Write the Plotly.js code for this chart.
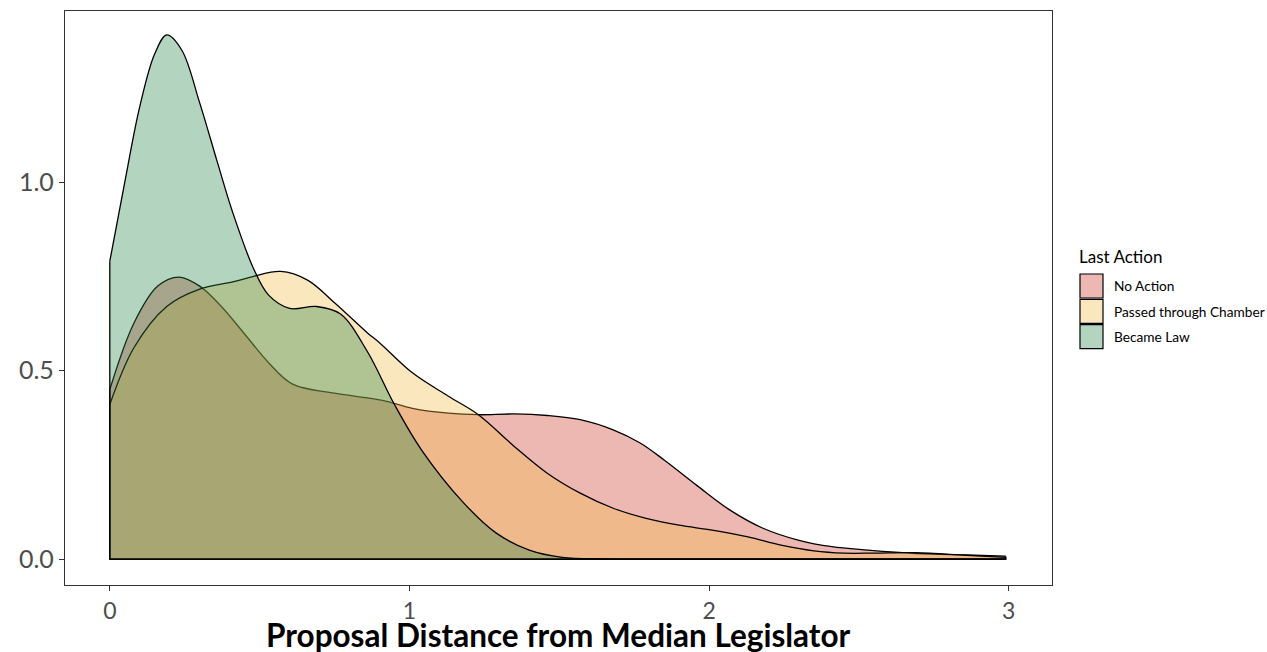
<!DOCTYPE html>
<html>
<head>
<meta charset="utf-8">
<script src="https://cdn.plot.ly/plotly-3.0.1.min.js"></script>
<style>
  html, body { margin: 0; padding: 0; background: #ffffff; }
  #chart { width: 1267px; height: 652px; }
</style>
</head>
<body>
<div id="chart"></div>
<script>
// ---- Data ----
const seriesNames = ["No Action", "Passed through Chamber", "Became Law"];

const xNoAction = [0, 0.08, 0.16, 0.23, 0.30, 0.37, 0.45, 0.53, 0.61, 0.75, 0.91, 1.01, 1.13, 1.23, 1.35, 1.46, 1.57, 1.68, 1.77, 1.85, 1.96, 2.07, 2.18, 2.30, 2.41, 2.53, 2.69, 2.86, 2.99];
const yNoAction = [0.45, 0.625, 0.724, 0.748, 0.724, 0.672, 0.597, 0.521, 0.464, 0.44, 0.421, 0.40, 0.387, 0.383, 0.385, 0.381, 0.37, 0.343, 0.308, 0.263, 0.195, 0.13, 0.082, 0.05, 0.033, 0.024, 0.015, 0.011, 0.008];

const xPassed = [0, 0.08, 0.19, 0.30, 0.41, 0.48, 0.57, 0.66, 0.75, 0.86, 0.90, 1.01, 1.13, 1.23, 1.35, 1.46, 1.57, 1.68, 1.79, 1.90, 2.01, 2.13, 2.24, 2.35, 2.45, 2.55, 2.69, 2.86, 2.99];
const yPassed = [0.41, 0.56, 0.67, 0.716, 0.735, 0.75, 0.763, 0.74, 0.68, 0.60, 0.574, 0.494, 0.432, 0.383, 0.299, 0.228, 0.175, 0.135, 0.108, 0.09, 0.077, 0.059, 0.037, 0.022, 0.016, 0.016, 0.017, 0.01, 0.005];

const xLaw = [0, 0.05, 0.10, 0.15, 0.19, 0.24, 0.30, 0.36, 0.41, 0.48, 0.53, 0.60, 0.69, 0.77, 0.86, 0.95, 1.04, 1.18, 1.29, 1.40, 1.51, 1.65, 1.80, 2.20, 2.60, 2.99];
const yLaw = [0.79, 1.00, 1.20, 1.34, 1.39, 1.35, 1.21, 1.05, 0.92, 0.77, 0.70, 0.665, 0.67, 0.65, 0.55, 0.41, 0.29, 0.15, 0.069, 0.024, 0.005, 0.001, 0, 0, 0, 0];

const xTicks = [0, 1, 2, 3];
const yTicks = [0.0, 0.5, 1.0];
const yTickLabels = ["0.0", "0.5", "1.0"];
const xTitle = "Proposal Distance from Median Legislator";
const legendTitle = "Last Action";

// ---- Styles ----
const fills = ["rgba(204,52,35,0.35)", "rgba(244,186,69,0.35)", "rgba(38,132,69,0.35)"];
const FONT = "Lato, 'Open Sans', sans-serif";

const xs = [xNoAction, xPassed, xLaw];
const ys = [yNoAction, yPassed, yLaw];

const traces = [];
for (let i = 0; i < 3; i++) {
  const x = xs[i], y = ys[i];
  traces.push({
    type: "scatter", mode: "lines", x: x, y: y,
    fill: "tozeroy", fillcolor: fills[i],
    line: { color: "#000000", width: 1.3, shape: "spline", smoothing: 1 },
    name: seriesNames[i], showlegend: false, hoverinfo: "skip"
  });
  // vertical edges and baseline of the density polygon
  traces.push({
    type: "scatter", mode: "lines",
    x: [x[0], x[0], x[x.length - 1], x[x.length - 1]],
    y: [y[0], 0, 0, y[y.length - 1]],
    line: { color: "#000000", width: 1.3 },
    showlegend: false, hoverinfo: "skip"
  });
}

// ---- Manual legend (ggplot style) and axis title ----
const W = 1267, H = 652;
const L = 65, R = 1052, T = 11, B = 585;
const px2x = p => (p - L) / (R - L);
const px2y = p => (B - p) / (B - T);

const shapes = [];
const annotations = [];
annotations.push({
  xref: "paper", yref: "paper", x: 0.5, y: px2y(635),
  xanchor: "center", yanchor: "middle", showarrow: false,
  text: "<b>" + xTitle + "</b>", font: { family: FONT, size: 31.5, color: "#000000" }
});
annotations.push({
  xref: "paper", yref: "paper", x: px2x(1077), y: px2y(256),
  xanchor: "left", yanchor: "middle", showarrow: false,
  text: legendTitle, font: { family: FONT, size: 17, color: "#000000" }
});
const keyTop = 274, keyH = 25.3;
for (let i = 0; i < 3; i++) {
  const t = keyTop + i * keyH;
  shapes.push({
    type: "rect", xref: "paper", yref: "paper",
    x0: px2x(1080), x1: px2x(1103), y0: px2y(t + 24), y1: px2y(t),
    fillcolor: fills[i], line: { color: "#000000", width: 1.2 }
  });
  annotations.push({
    xref: "paper", yref: "paper", x: px2x(1112), y: px2y(t + 12),
    xanchor: "left", yanchor: "middle", showarrow: false,
    text: seriesNames[i], font: { family: FONT, size: 13.7, color: "#000000" }
  });
}

const layout = {
  width: W, height: H,
  margin: { l: L, r: W - R, t: T, b: H - B, pad: 0 },
  paper_bgcolor: "#ffffff", plot_bgcolor: "#ffffff",
  showlegend: false,
  font: { family: FONT },
  xaxis: {
    range: [-0.1495, 3.1445], tickvals: xTicks, ticktext: xTicks.map(String),
    showgrid: false, zeroline: false,
    showline: true, mirror: true, linecolor: "#333333", linewidth: 1.2,
    ticks: "outside", ticklen: 5, tickcolor: "#333333", tickwidth: 1,
    tickfont: { family: FONT, size: 23, color: "#4D4D4D" }
  },
  yaxis: {
    range: [-0.0685, 1.4535], tickvals: yTicks, ticktext: yTickLabels,
    showgrid: false, zeroline: false,
    showline: true, mirror: true, linecolor: "#333333", linewidth: 1.2,
    ticks: "outside", ticklen: 5, tickcolor: "#333333", tickwidth: 1,
    tickfont: { family: FONT, size: 25, color: "#4D4D4D" }
  },
  shapes: shapes,
  annotations: annotations
};

Plotly.newPlot("chart", traces, layout, { displayModeBar: false, staticPlot: true });
</script>
</body>
</html>
